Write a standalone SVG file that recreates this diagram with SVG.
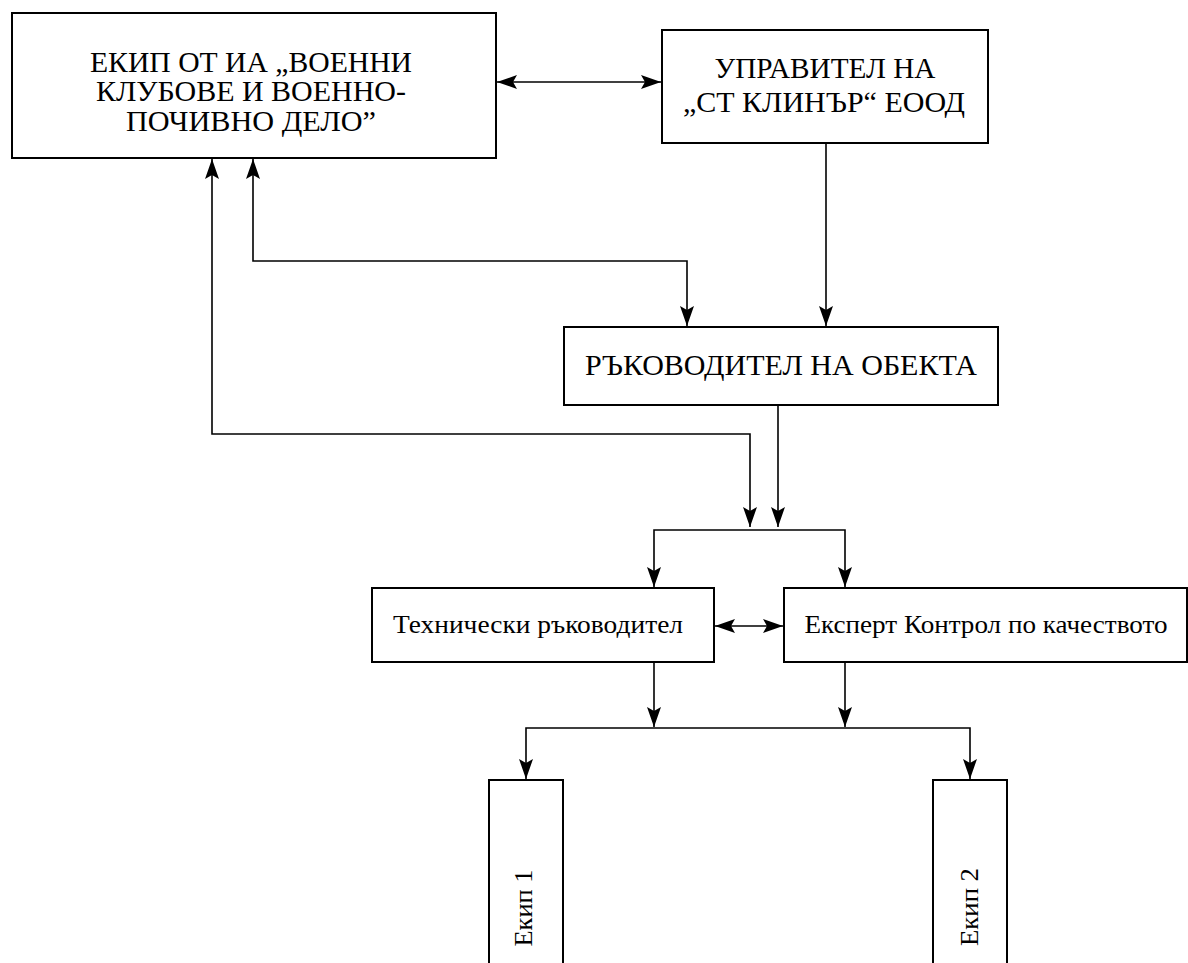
<svg xmlns="http://www.w3.org/2000/svg" width="1188" height="963" viewBox="0 0 1188 963">
<style>
.box{fill:#fff;stroke:#000;stroke-width:2}
.t{font-family:"Liberation Serif","Times New Roman",serif;fill:#000;text-anchor:middle}
.big{font-size:29px}
.mid{font-size:25px}
.c{fill:none;stroke:#000;stroke-width:1.6}
</style>
<defs>
<marker id="ah" markerUnits="userSpaceOnUse" markerWidth="22" markerHeight="16" refX="20" refY="8" orient="auto-start-reverse">
<path d="M0,1 L20,8 L0,15 L4,8 z" fill="#000"/>
</marker>
</defs>
<rect width="1188" height="963" fill="#fff"/>
<g id="connectors">
<path class="c" d="M497,82 L661,82" marker-start="url(#ah)" marker-end="url(#ah)"/>
<path class="c" d="M826,144 L826,326" marker-end="url(#ah)"/>
<path class="c" d="M253,159 L253,261 L687,261 L687,326" marker-start="url(#ah)" marker-end="url(#ah)"/>
<path class="c" d="M212,159 L212,434 L750,434 L750,527" marker-start="url(#ah)" marker-end="url(#ah)"/>
<path class="c" d="M778,406 L778,527" marker-end="url(#ah)"/>
<path class="c" d="M654,587 L654,530 L845,530 L845,587" marker-start="url(#ah)" marker-end="url(#ah)"/>
<path class="c" d="M715,626 L783,626" marker-start="url(#ah)" marker-end="url(#ah)"/>
<path class="c" d="M654,663 L654,727" marker-end="url(#ah)"/>
<path class="c" d="M845,663 L845,727" marker-end="url(#ah)"/>
<path class="c" d="M526,779 L526,728 L970,728 L970,779" marker-start="url(#ah)" marker-end="url(#ah)"/>
</g>
<g id="n1">
<rect class="box" x="12" y="13" width="484" height="145"/>
<text class="t big" x="251" y="72" textLength="322" lengthAdjust="spacingAndGlyphs">ЕКИП ОТ ИА „ВОЕННИ</text>
<text class="t big" x="251" y="101" textLength="310" lengthAdjust="spacingAndGlyphs">КЛУБОВЕ И ВОЕННО-</text>
<text class="t big" x="251" y="131" textLength="250" lengthAdjust="spacingAndGlyphs">ПОЧИВНО ДЕЛО”</text>
</g>
<g id="n2">
<rect class="box" x="662" y="30" width="326" height="113"/>
<text class="t big" x="825" y="78" textLength="221" lengthAdjust="spacingAndGlyphs">УПРАВИТЕЛ НА</text>
<text class="t big" x="824" y="112" textLength="282" lengthAdjust="spacingAndGlyphs">„СТ КЛИНЪР“ ЕООД</text>
</g>
<g id="n3">
<rect class="box" x="564" y="327" width="434" height="78"/>
<text class="t big" x="781" y="375" textLength="392" lengthAdjust="spacingAndGlyphs">РЪКОВОДИТЕЛ НА ОБЕКТА</text>
</g>
<g id="n4">
<rect class="box" x="372" y="588" width="342" height="74"/>
<text class="t mid" x="538" y="633" textLength="290" lengthAdjust="spacingAndGlyphs">Технически ръководител</text>
</g>
<g id="n5">
<rect class="box" x="784" y="588" width="403" height="74"/>
<text class="t mid" x="986" y="633" textLength="363" lengthAdjust="spacingAndGlyphs">Експерт Контрол по качеството</text>
</g>
<g id="n6">
<rect class="box" x="489" y="780" width="74" height="200"/>
<text class="t mid" transform="translate(532,908) rotate(-90)" x="0" y="0" textLength="77" lengthAdjust="spacingAndGlyphs">Екип 1</text>
</g>
<g id="n7">
<rect class="box" x="933" y="780" width="74" height="200"/>
<text class="t mid" transform="translate(978,907) rotate(-90)" x="0" y="0" textLength="78" lengthAdjust="spacingAndGlyphs">Екип 2</text>
</g>
</svg>
